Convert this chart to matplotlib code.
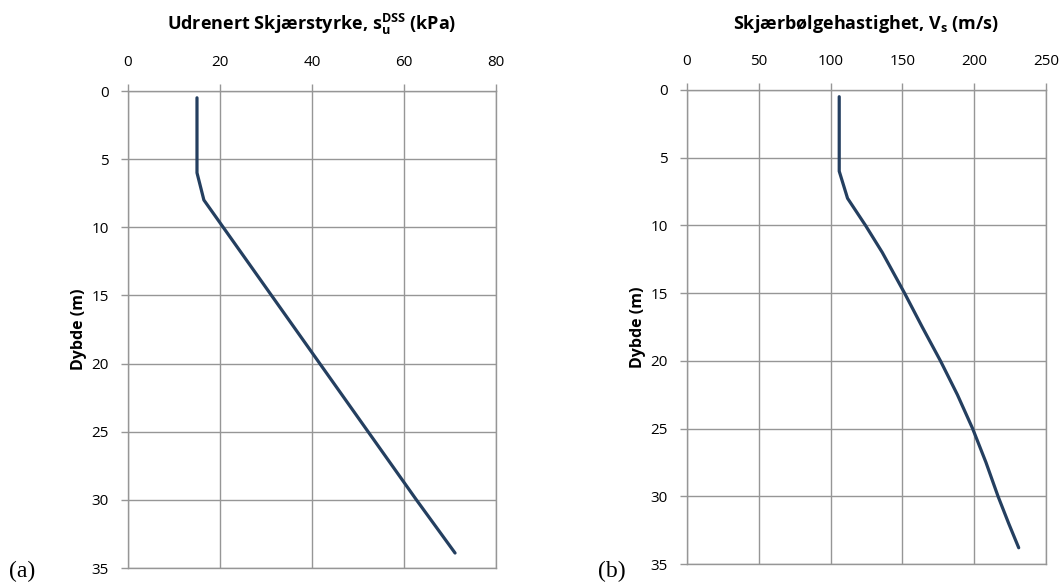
import matplotlib
matplotlib.use("Agg")
import matplotlib.pyplot as plt

plt.rcParams['font.family'] = ['Open Sans', 'DejaVu Sans']
plt.rcParams['mathtext.fontset'] = 'custom'
plt.rcParams['mathtext.rm'] = 'Open Sans'
plt.rcParams['mathtext.bf'] = 'Open Sans:bold'

# (a) undrained shear strength profile
su_depth = [0.5, 6, 8, 10, 15, 20, 25, 30, 33.9]
su_value = [15, 15, 16.5, 20.7, 31.2, 41.7, 52.2, 62.7, 71.1]

# (b) shear wave velocity profile
vs_depth = [0.5, 6, 8, 10, 12, 15, 17.5, 20, 22.5, 25, 27.5, 30, 32, 33.8]
vs_value = [106, 106, 111.8, 124.3, 136, 151.5, 163.8, 176.5, 188.3, 198.9,
            208.2, 216.6, 224, 231]

line_col = '#243F60'
grid_col = '#969696'

fig = plt.figure(figsize=(10.63, 5.86), dpi=100)
ax1 = fig.add_axes([0.1204, 0.0307, 0.3462, 0.814])
ax2 = fig.add_axes([0.6463, 0.0375, 0.3377, 0.809])


def style(ax, xmax, xstep, title):
    ax.set_xlim(0, xmax)
    ax.set_ylim(35, 0)
    ax.set_xticks(range(0, xmax + 1, xstep))
    ax.set_yticks(range(0, 36, 5))
    ax.xaxis.tick_top()
    ax.grid(True, color=grid_col, linewidth=1.0)
    ax.set_axisbelow(True)
    for s in ax.spines.values():
        s.set_color(grid_col)
        s.set_linewidth(1.0)
    ax.tick_params(axis='both', colors=grid_col, labelcolor='black',
                   labelsize=11, length=5, width=1.0, direction='out')
    ax.tick_params(axis='x', pad=10)
    ax.tick_params(axis='y', pad=9)
    ax.set_title(title, fontsize=13, fontweight='bold', pad=44)
    ax.set_ylabel('Dybde (m)', fontsize=11.5, fontweight='bold', labelpad=3)


ax1.plot(su_value, su_depth, color=line_col, lw=2.3, solid_capstyle='round',
         solid_joinstyle='round')
style(ax1, 80, 20, r'Udrenert Skjærstyrke, $\mathbf{s_u^{DSS}}$ (kPa)')

ax2.plot(vs_value, vs_depth, color=line_col, lw=2.3, solid_capstyle='round',
         solid_joinstyle='round')
style(ax2, 250, 50, r'Skjærbølgehastighet, $\mathbf{V_s}$ (m/s)')

fig.text(0.008, 0.016, '(a)', fontsize=17, family='Liberation Serif')
fig.text(0.563, 0.016, '(b)', fontsize=17, family='Liberation Serif')

fig.savefig('out.png', dpi=100)
